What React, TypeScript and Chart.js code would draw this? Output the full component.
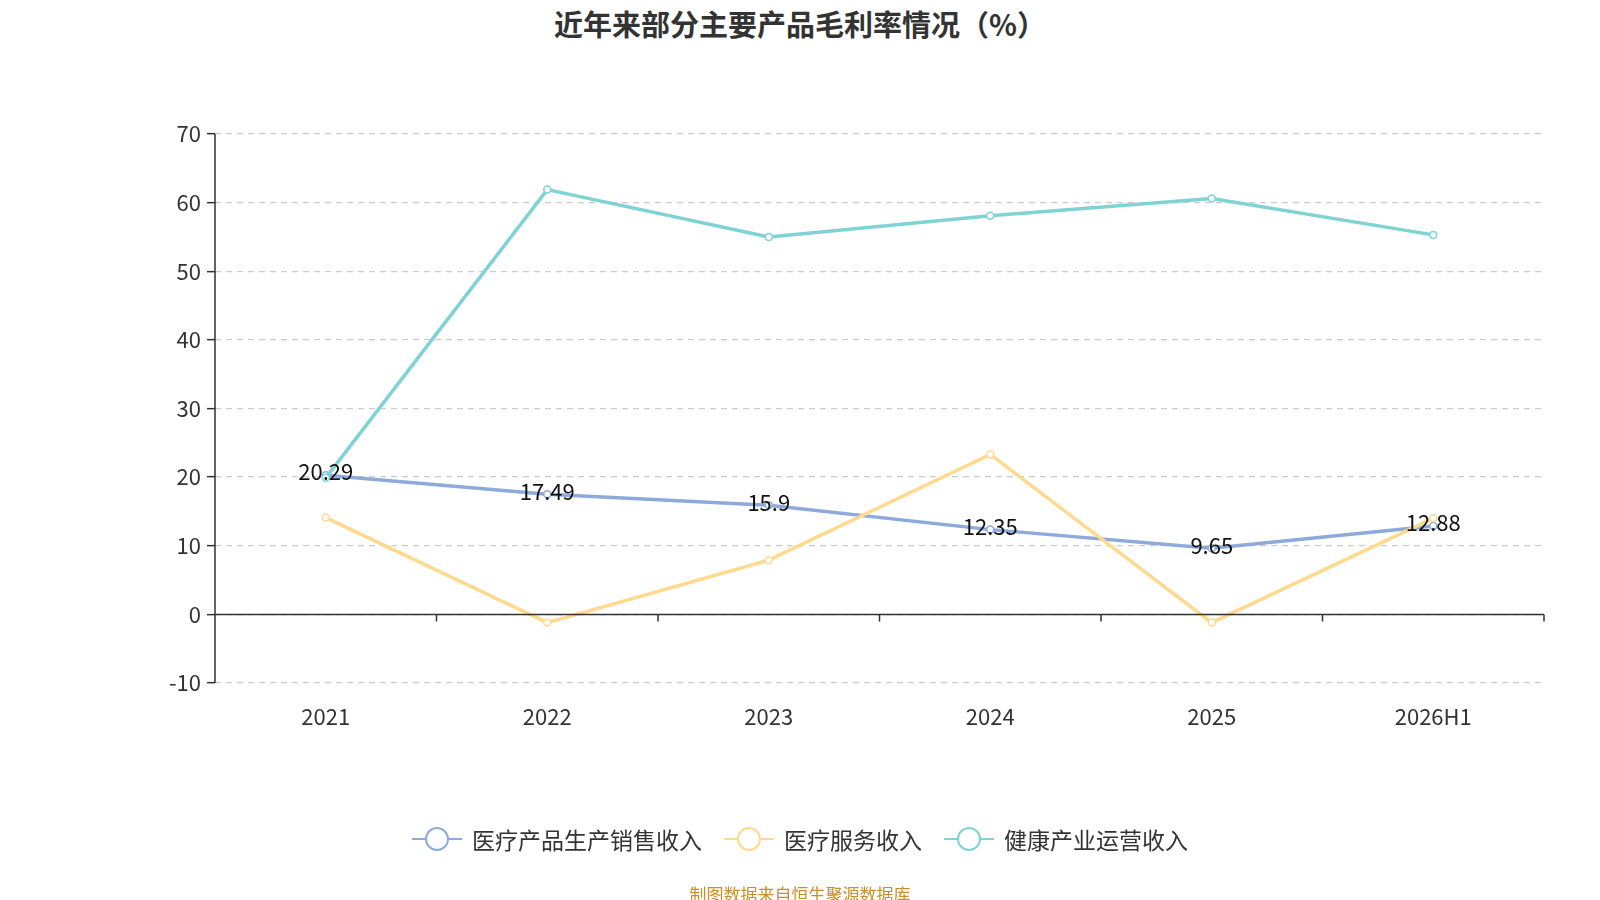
import React, { useEffect, useRef } from "react";
import { Chart, registerables } from "chart.js";
Chart.register(...registerables);

const categories = ["2021", "2022", "2023", "2024", "2025", "2026H1"];
const productSales = [20.29, 17.49, 15.9, 12.35, 9.65, 12.88];
const medicalService = [14.1, -1.2, 7.9, 23.3, -1.2, 14.0];
const healthOps = [19.9, 61.9, 55.0, 58.1, 60.6, 55.3];
const seriesNames = ["医疗产品生产销售收入", "医疗服务收入", "健康产业运营收入"];
const colors = ["#8eaadb", "#ffd98e", "#7fd3d5"];
const FONT = "'Noto Sans CJK SC','Noto Sans',sans-serif";

const zeroAxis = {
  id: "zeroAxis",
  afterDatasetsDraw(chart: any) {
    const { ctx, chartArea, scales } = chart;
    const y0 = scales.y.getPixelForValue(0);
    ctx.save();
    ctx.strokeStyle = "#333";
    ctx.lineWidth = 1.5;
    ctx.beginPath();
    ctx.moveTo(chartArea.left, chartArea.top);
    ctx.lineTo(chartArea.left, chartArea.bottom);
    ctx.moveTo(chartArea.left, y0);
    ctx.lineTo(chartArea.right, y0);
    const n = categories.length;
    const w = (chartArea.right - chartArea.left) / n;
    for (let i = 1; i <= n; i++) {
      const x = chartArea.left + w * i;
      ctx.moveTo(x, y0);
      ctx.lineTo(x, y0 + 7);
    }
    ctx.stroke();
    const idx = chart.data.datasets.findIndex((d: any) => d.label === seriesNames[0]);
    const meta = chart.getDatasetMeta(idx);
    ctx.fillStyle = "#111";
    ctx.font = `22px ${FONT}`;
    ctx.textAlign = "center";
    ctx.textBaseline = "middle";
    meta.data.forEach((p: any, i: number) => {
      ctx.fillText(String(productSales[i]), p.x, p.y - 3);
    });
    ctx.restore();
  },
};

export default function App() {
  const ref = useRef<HTMLCanvasElement>(null);
  useEffect(() => {
    const ds = [productSales, medicalService, healthOps].map((d, i) => ({
      label: seriesNames[i],
      data: d,
      borderColor: colors[i],
      backgroundColor: "#fff",
      pointBackgroundColor: "#fff",
      pointBorderColor: colors[i],
      pointRadius: 3.5,
      pointBorderWidth: 1.5,
      borderWidth: 3.5,
      tension: 0,
    }));
    const chart = new Chart(ref.current!, {
      type: "line",
      data: { labels: categories, datasets: ds.reverse() as any },
      options: {
        animation: false,
        responsive: false,
        layout: { padding: { top: 134, right: 56, left: 0, bottom: 0 } },
        plugins: { legend: { display: false }, tooltip: { enabled: false } },
        scales: {
          x: {
            offset: true,
            grid: { display: false },
            border: { display: false },
            ticks: { color: "#333", font: { size: 22, family: FONT }, padding: 12 },
            afterFit: (s: any) => { s.height = 217; },
          },
          y: {
            min: -10,
            max: 70,
            ticks: { stepSize: 10, color: "#333", font: { size: 22, family: FONT }, padding: 6 },
            grid: { color: "#ccc", tickBorderDash: [0, 0], tickColor: "#333", tickLength: 8, lineWidth: 1.3, tickWidth: 1.5 } as any,
            border: { display: false, dash: [6, 5] } as any,
            afterFit: (s: any) => { s.width = 215; },
          },
        },
      },
      plugins: [zeroAxis],
    });
    return () => chart.destroy();
  }, []);
  return (
    <div style={{ position: "fixed", left: 0, top: 0, width: 1600, height: 900, background: "#fff", fontFamily: FONT }}>
      <div style={{ position: "absolute", top: 2, width: 1600, textAlign: "center", fontSize: 29, fontWeight: "bold", color: "#333" }}>
        近年来部分主要产品毛利率情况（%）
      </div>
      <canvas ref={ref} width={1600} height={900} style={{ position: "absolute", left: 0, top: 0 }} />
      <div style={{ position: "absolute", top: 822, width: 1600, display: "flex", justifyContent: "center", gap: 22, fontSize: 23, color: "#333" }}>
        {seriesNames.map((n, i) => (
          <div key={n} style={{ display: "flex", alignItems: "center", gap: 10 }}>
            <svg width="50" height="30">
              <line x1="0" y1="15" x2="50" y2="15" stroke={colors[i]} strokeWidth="2" />
              <circle cx="25" cy="15" r="11" fill="#fff" stroke={colors[i]} strokeWidth="2" />
            </svg>
            <span>{n}</span>
          </div>
        ))}
      </div>
      <div style={{ position: "absolute", top: 881, width: 1600, textAlign: "center", fontSize: 17, color: "#c8902a" }}>
        制图数据来自恒生聚源数据库
      </div>
    </div>
  );
}
